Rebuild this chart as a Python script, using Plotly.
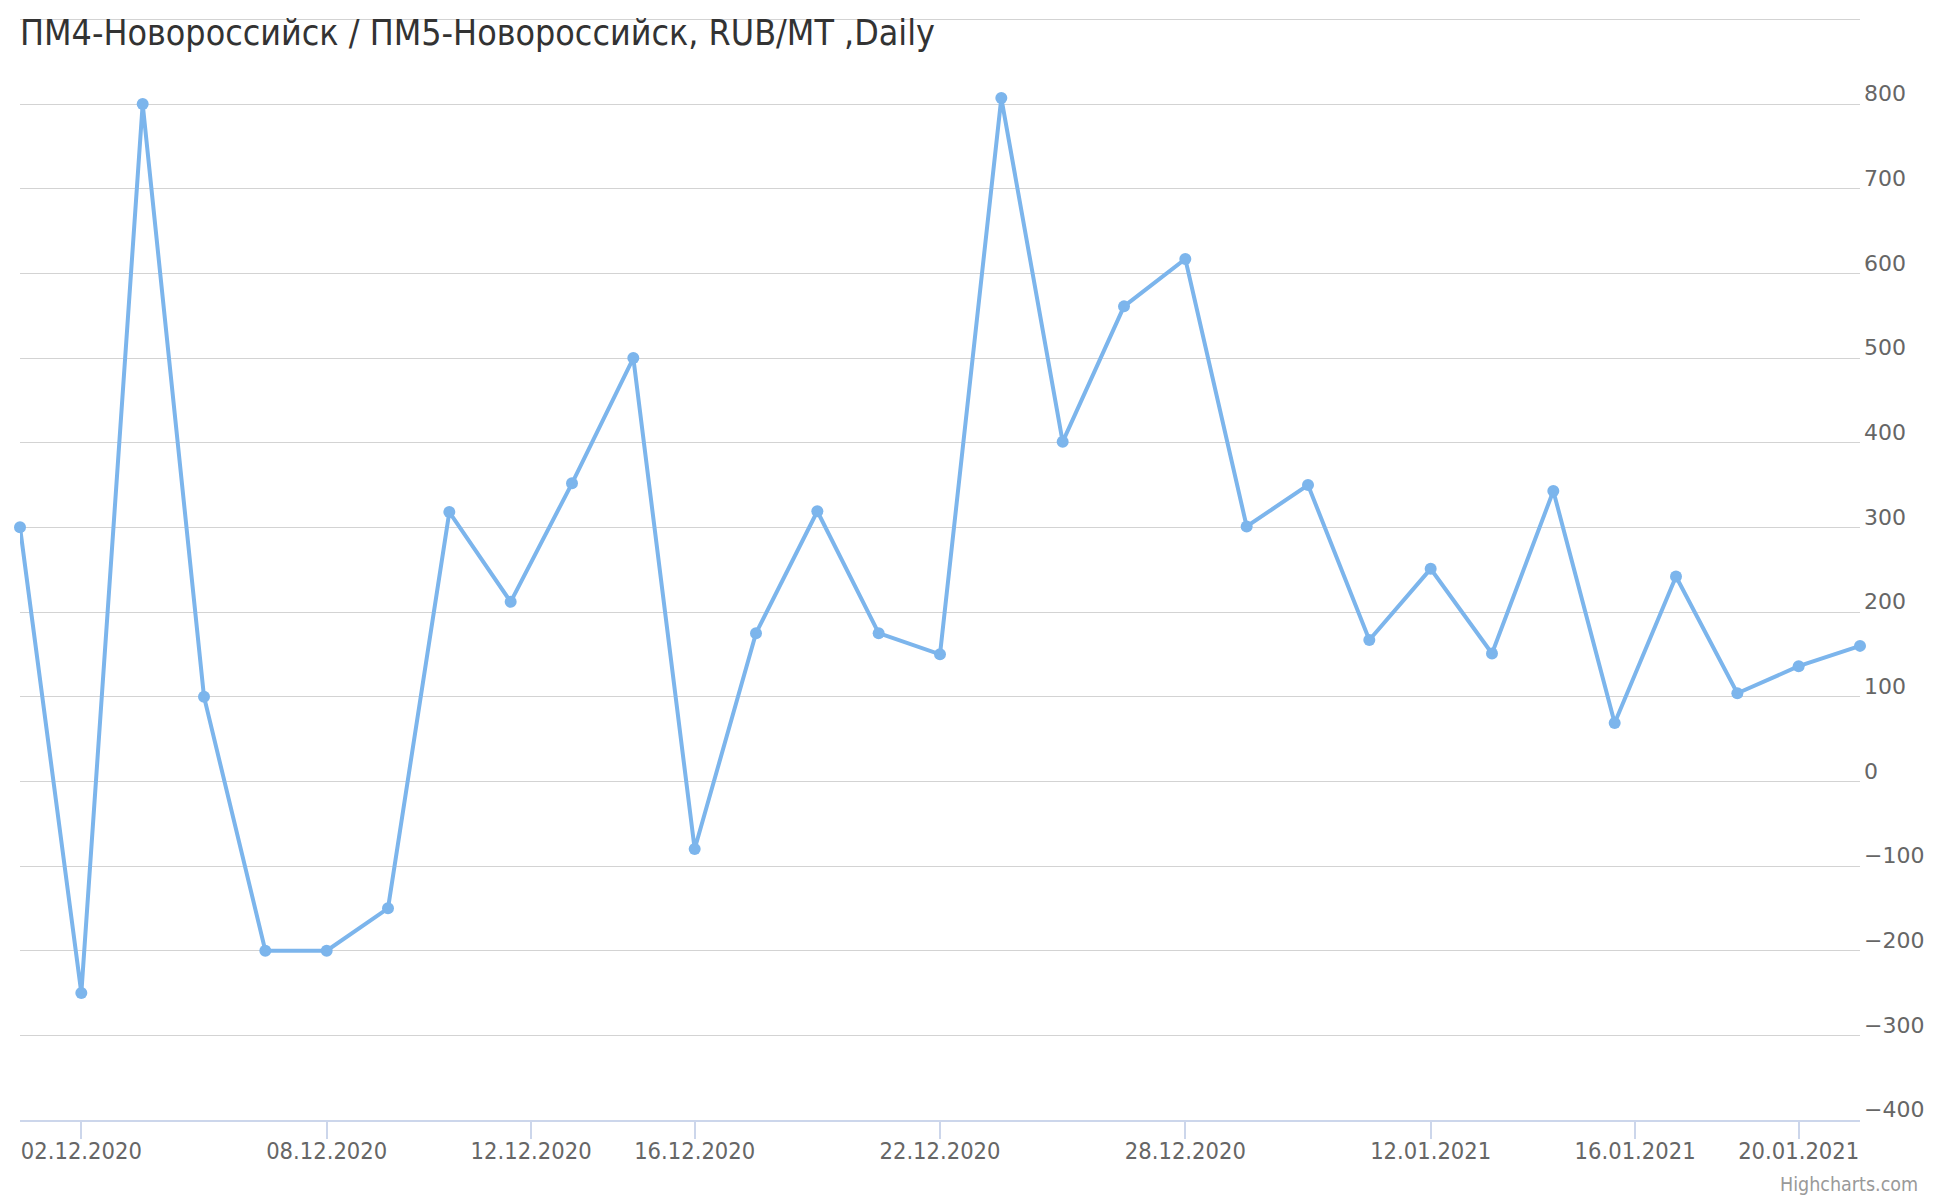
import datetime as dt
import plotly.graph_objects as go

# ---- data ----
dates = [
    "01.12.2020", "02.12.2020", "03.12.2020", "04.12.2020", "07.12.2020", "08.12.2020",
    "09.12.2020", "10.12.2020", "11.12.2020", "14.12.2020", "15.12.2020", "16.12.2020",
    "17.12.2020", "18.12.2020", "21.12.2020", "22.12.2020", "23.12.2020", "24.12.2020",
    "25.12.2020", "28.12.2020", "29.12.2020", "30.12.2020", "11.01.2021", "12.01.2021",
    "13.01.2021", "14.01.2021", "15.01.2021", "18.01.2021", "19.01.2021", "20.01.2021",
    "21.01.2021",
]
values = [
    300, -250, 800, 100, -200, -200, -150, 318, 212, 352, 500, -80,
    175, 319, 175, 150, 807, 401, 561, 617, 301, 350, 167, 251,
    151, 343, 69, 242, 104, 136, 160,
]
tick_dates = [
    "02.12.2020", "08.12.2020", "12.12.2020", "16.12.2020", "22.12.2020",
    "28.12.2020", "12.01.2021", "16.01.2021", "20.01.2021",
]
y_ticks = [-400, -300, -200, -100, 0, 100, 200, 300, 400, 500, 600, 700, 800, 900]
y_tick_text = [("" if v == 900 else str(v).replace("-", "\u2212")) for v in y_ticks]
title_text = "ПМ4-Новороссийск / ПМ5-Новороссийск, RUB/MT ,Daily"

COND = "DejaVu Sans Condensed, Liberation Sans Narrow, DejaVu Sans, sans-serif"


def parse(s):
    return dt.datetime.strptime(s, "%d.%m.%Y")


# ordinal axis: points equally spaced, ticks interpolated between neighbouring points
pts = [parse(d) for d in dates]
xs = list(range(len(pts)))


def ordinal_pos(s):
    t = parse(s)
    for i in range(len(pts) - 1):
        if pts[i] <= t <= pts[i + 1]:
            frac = (t - pts[i]).total_seconds() / (pts[i + 1] - pts[i]).total_seconds()
            return i + frac
    return None


tick_pos = [ordinal_pos(d) for d in tick_dates]

W, H = 1932, 1192

fig = go.Figure()
fig.add_trace(go.Scatter(
    x=xs, y=values, mode="lines+markers",
    line=dict(color="#7cb5ec", width=4),
    marker=dict(color="#7cb5ec", size=12),
    cliponaxis=False,
    showlegend=False,
    hovertemplate="%{text}: %{y}<extra></extra>",
    text=dates,
))

fig.update_layout(
    width=W, height=H, autosize=False,
    paper_bgcolor="white", plot_bgcolor="white",
    margin=dict(l=12, r=80, t=10, b=80, autoexpand=False),
    font=dict(family=COND, color="#666666"),
    title=dict(
        text=title_text, x=0, xref="paper", xanchor="left",
        y=1 - 25 / H, yref="container", yanchor="middle",
        font=dict(size=35.5, color="#333333", family=COND),
    ),
    xaxis=dict(
        range=[0, len(xs) - 1], showgrid=False, zeroline=False,
        tickmode="array", tickvals=tick_pos, ticktext=tick_dates,
        ticks="outside", ticklen=17, tickwidth=1.5, tickcolor="#ccd6eb",
        showline=True, linecolor="#ccd6eb", linewidth=2,
        ticklabelstandoff=-8,
        tickfont=dict(size=23.5, color="#666666", family=COND),
    ),
    yaxis=dict(
        range=[-400, 901.6], side="right", zeroline=False,
        tickmode="array", tickvals=y_ticks, ticktext=y_tick_text,
        showgrid=True, gridcolor="#d3d3d3", gridwidth=1.4,
        ticks="", ticklabelposition="outside top", ticklabelstandoff=3,
        ticklabelshift=5,
        tickfont=dict(size=22, color="#666666", family="DejaVu Sans, sans-serif"),
        showline=False,
    ),
    annotations=[dict(
        text="Highcharts.com", xref="paper", yref="paper", x=1, y=0,
        xanchor="right", yanchor="middle", xshift=60, yshift=-64,
        showarrow=False, font=dict(size=19.5, color="#999999", family=COND),
    )],
)

fig.write_html("out.html")
